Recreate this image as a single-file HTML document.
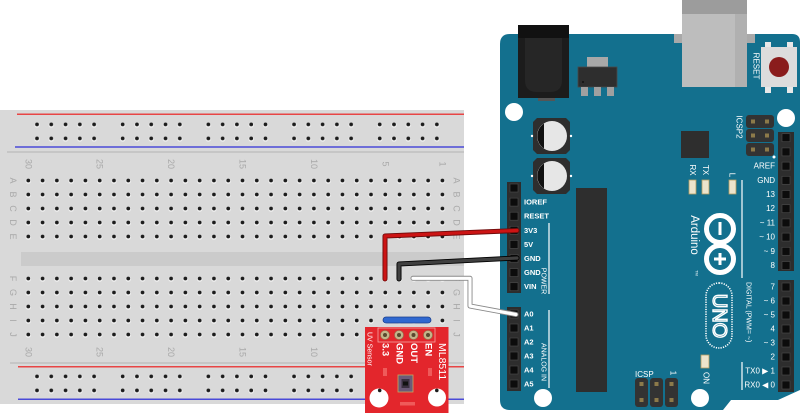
<!DOCTYPE html>
<html><head><meta charset="utf-8"><style>
html,body{margin:0;padding:0;background:#fff;}
svg{display:block;}
text{font-family:"Liberation Sans","DejaVu Sans",sans-serif;}
</style></head><body>
<svg xmlns="http://www.w3.org/2000/svg" width="800" height="413" viewBox="0 0 800 413">
<defs>
<pattern id="hm" x="21.16" y="5.5" width="14.28" height="14" patternUnits="userSpaceOnUse">
<circle cx="7.14" cy="7.6" r="2.7" fill="#f2f2f2"/><circle cx="7.14" cy="7" r="1.9" fill="#1c1c1c"/>
</pattern>
<pattern id="hr" x="29.86" y="5.4" width="85.68" height="14" patternUnits="userSpaceOnUse">
<g fill="#f2f2f2"><circle cx="7.14" cy="7.6" r="2.7"/><circle cx="21.42" cy="7.6" r="2.7"/><circle cx="35.7" cy="7.6" r="2.7"/><circle cx="49.98" cy="7.6" r="2.7"/><circle cx="64.26" cy="7.6" r="2.7"/></g>
<g fill="#1c1c1c"><circle cx="7.14" cy="7" r="1.9"/><circle cx="21.42" cy="7" r="1.9"/><circle cx="35.7" cy="7" r="1.9"/><circle cx="49.98" cy="7" r="1.9"/><circle cx="64.26" cy="7" r="1.9"/></g>
</pattern>
</defs>

<!-- ============ BREADBOARD ============ -->
<rect x="0" y="110" width="464" height="294" fill="#d9d9d9"/>
<line x1="17" y1="114.3" x2="464" y2="114.3" stroke="#e84545" stroke-width="1.5"/>
<line x1="15" y1="147" x2="464" y2="147" stroke="#4a4ad8" stroke-width="1.5"/>
<line x1="7" y1="152" x2="464" y2="152" stroke="#bcbcbc" stroke-width="1.2"/>
<line x1="10" y1="363" x2="464" y2="363" stroke="#bcbcbc" stroke-width="1.2"/>
<line x1="18" y1="366.7" x2="464" y2="366.7" stroke="#e84545" stroke-width="1.5"/>
<line x1="18" y1="399.3" x2="464" y2="399.3" stroke="#4a4ad8" stroke-width="1.5"/>
<rect x="21" y="252" width="443" height="14" fill="#cbcbcb"/>

<rect x="29.86" y="117.4" width="428.4" height="28" fill="url(#hr)"/>
<rect x="29.86" y="369.4" width="428.4" height="28" fill="url(#hr)"/>
<rect x="21.16" y="173.5" width="428.4" height="70" fill="url(#hm)"/>
<rect x="21.16" y="271.5" width="428.4" height="70" fill="url(#hm)"/>

<g font-size="9" fill="#a9a9a9" text-anchor="middle" dominant-baseline="central">
<text transform="translate(28.3,164) rotate(90)">30</text>
<text transform="translate(99.7,164) rotate(90)">25</text>
<text transform="translate(171.1,164) rotate(90)">20</text>
<text transform="translate(242.5,164) rotate(90)">15</text>
<text transform="translate(313.9,164) rotate(90)">10</text>
<text transform="translate(385.3,164) rotate(90)">5</text>
<text transform="translate(442.4,164) rotate(90)">1</text>
<text transform="translate(28.3,352) rotate(90)">30</text>
<text transform="translate(99.7,352) rotate(90)">25</text>
<text transform="translate(171.1,352) rotate(90)">20</text>
<text transform="translate(242.5,352) rotate(90)">15</text>
<text transform="translate(313.9,352) rotate(90)">10</text>
<text transform="translate(385.3,352) rotate(90)">5</text>
<text transform="translate(442.4,352) rotate(90)">1</text>
<text transform="translate(13,180.5) rotate(90)">A</text>
<text transform="translate(13,194.5) rotate(90)">B</text>
<text transform="translate(13,208.5) rotate(90)">C</text>
<text transform="translate(13,222.5) rotate(90)">D</text>
<text transform="translate(13,236.5) rotate(90)">E</text>
<text transform="translate(13,278.5) rotate(90)">F</text>
<text transform="translate(13,292.5) rotate(90)">G</text>
<text transform="translate(13,306.5) rotate(90)">H</text>
<text transform="translate(13,320.5) rotate(90)">I</text>
<text transform="translate(13,334.5) rotate(90)">J</text>
<text transform="translate(456.5,180.5) rotate(90)">A</text>
<text transform="translate(456.5,194.5) rotate(90)">B</text>
<text transform="translate(456.5,208.5) rotate(90)">C</text>
<text transform="translate(456.5,222.5) rotate(90)">D</text>
<text transform="translate(456.5,236.5) rotate(90)">E</text>
<text transform="translate(456.5,278.5) rotate(90)">F</text>
<text transform="translate(456.5,292.5) rotate(90)">G</text>
<text transform="translate(456.5,306.5) rotate(90)">H</text>
<text transform="translate(456.5,320.5) rotate(90)">I</text>
<text transform="translate(456.5,334.5) rotate(90)">J</text>
</g>

<!-- ============ ARDUINO ============ -->
<path d="M510,34 H792 Q800,34 800,42 V390 L778,400 H731 L723,410 H510 Q500,410 500,400 V44 Q500,34 510,34 Z" fill="#13708e"/>

<!-- USB -->
<rect x="674" y="34" width="81" height="9" fill="#a9a9a9"/>
<rect x="682" y="0" width="65" height="87" fill="#bdbdbd"/>
<rect x="682" y="0" width="65" height="14" fill="#9c9c9c"/>
<rect x="735" y="14" width="12" height="73" fill="#b0b0b0"/>

<!-- Power jack -->
<rect x="538" y="96" width="17" height="5" fill="#555"/>
<rect x="518" y="25" width="51" height="73" fill="#1c1c1c"/>
<rect x="518" y="25" width="51" height="13" fill="#111"/>
<path d="M525,38 H562 V80 Q562,92 550,92 H537 Q525,92 525,80 Z" fill="#262626"/>

<!-- Regulator -->
<rect x="587" y="57" width="21" height="10" fill="#a8a8a8"/>
<rect x="578" y="67" width="39" height="20" fill="#2e2e2e" stroke="#4a4a4a" stroke-width="0.8"/>
<circle cx="583" cy="82" r="1" fill="#111"/>
<rect x="581" y="87" width="7" height="9" fill="#a0a0a0"/>
<rect x="594" y="87" width="7" height="9" fill="#a0a0a0"/>
<rect x="607" y="87" width="7" height="9" fill="#a0a0a0"/>

<!-- Reset button -->
<rect x="765" y="42" width="6" height="6" fill="#e8e8e8"/><rect x="787" y="42" width="6" height="6" fill="#e8e8e8"/>
<rect x="765" y="86" width="6" height="7" fill="#e8e8e8"/><rect x="787" y="86" width="6" height="7" fill="#e8e8e8"/>
<rect x="761" y="47" width="36" height="40" fill="#dcdcdc"/>
<circle cx="779" cy="67" r="10" fill="#8a1c1c"/>
<text transform="translate(756,66) rotate(90)" font-size="8" fill="#fff" text-anchor="middle" dominant-baseline="central">RESET</text>

<!-- mounting holes -->
<circle cx="514" cy="112" r="9" fill="#fff"/>
<circle cx="786" cy="118" r="9" fill="#fff"/>
<circle cx="543" cy="398" r="9" fill="#fff"/>
<circle cx="700" cy="398" r="9" fill="#fff"/>

<!-- Capacitors -->
<path d="M537,118 H566 L570,122 V150 L566,154 H537 L533,150 V122 Z" fill="#2e2e2e"/>
<circle cx="552" cy="136" r="15" fill="#e6e6e6"/>
<path d="M544,123.5 A15,15 0 0 0 544,148.5 Z" fill="#111"/>
<circle cx="532" cy="136" r="1.2" fill="#fff"/><circle cx="571" cy="136" r="1.2" fill="#fff"/>
<path d="M537,158 H566 L570,162 V190 L566,194 H537 L533,190 V162 Z" fill="#2e2e2e"/>
<circle cx="552" cy="176" r="15" fill="#e6e6e6"/>
<path d="M544,163.5 A15,15 0 0 0 544,188.5 Z" fill="#111"/>
<circle cx="532" cy="176" r="1.2" fill="#fff"/><circle cx="571" cy="176" r="1.2" fill="#fff"/>

<!-- chips -->
<rect x="681" y="131" width="28" height="27" fill="#2e2e2e"/>
<rect x="576" y="188" width="31" height="204" fill="#2e2e2e"/>

<!-- ICSP2 -->
<rect x="746" y="115" width="28" height="13" rx="3" fill="#333"/>
<rect x="746" y="129" width="28" height="13" rx="3" fill="#333"/>
<rect x="746" y="143" width="28" height="13" rx="3" fill="#333"/>
<g fill="#8c7a4a"><rect x="751" y="119.5" width="4" height="4"/><rect x="765" y="119.5" width="4" height="4"/><rect x="751" y="133.5" width="4" height="4"/><rect x="765" y="133.5" width="4" height="4"/><rect x="751" y="147.5" width="4" height="4"/><rect x="765" y="147.5" width="4" height="4"/></g>
<circle cx="774" cy="157" r="1.5" fill="#fff"/>
<text transform="translate(739,127) rotate(90)" font-size="8" fill="#fff" text-anchor="middle" dominant-baseline="central">ICSP2</text>

<!-- LEDs -->
<rect x="689" y="180" width="7" height="14" fill="#ece4cc" stroke="#b59c60" stroke-width="0.8"/>
<rect x="702" y="180" width="7" height="14" fill="#ece4cc" stroke="#b59c60" stroke-width="0.8"/>
<rect x="729" y="180" width="7" height="14" fill="#ece4cc" stroke="#b59c60" stroke-width="0.8"/>
<rect x="701" y="355" width="8" height="13" fill="#ece4cc" stroke="#b59c60" stroke-width="0.8"/>
<g font-size="8" fill="#fff" text-anchor="middle" dominant-baseline="central">
<text transform="translate(692.5,170) rotate(90)">RX</text>
<text transform="translate(705.5,170) rotate(90)">TX</text>
<text transform="translate(732,175) rotate(90)">L</text>
<text transform="translate(706,378) rotate(90)">ON</text>
<text transform="translate(673,373) rotate(90)">1</text>
</g>

<!-- Digital line -->
<line x1="742" y1="180" x2="742" y2="278" stroke="#fff" stroke-width="1.2"/>
<line x1="742" y1="362" x2="742" y2="390" stroke="#fff" stroke-width="1.2"/>
<text transform="translate(748,282) rotate(90)" font-size="7" fill="#fff" dominant-baseline="central">DIGITAL (PWM= ~)</text>

<!-- Right headers -->
<rect x="778" y="132" width="16" height="139" fill="#2d2d2d"/>
<rect x="778" y="280" width="16" height="112" fill="#2d2d2d"/>
<g fill="#0c0c0c" stroke="#474747" stroke-width="0.7">
<rect x="782" y="133.7" width="8" height="8"/><rect x="782" y="147.9" width="8" height="8"/><rect x="782" y="162.1" width="8" height="8"/><rect x="782" y="176.3" width="8" height="8"/><rect x="782" y="190.5" width="8" height="8"/><rect x="782" y="204.7" width="8" height="8"/><rect x="782" y="218.9" width="8" height="8"/><rect x="782" y="233.1" width="8" height="8"/><rect x="782" y="247.3" width="8" height="8"/><rect x="782" y="261.5" width="8" height="8"/>
<rect x="782" y="283" width="8" height="8"/><rect x="782" y="297" width="8" height="8"/><rect x="782" y="311" width="8" height="8"/><rect x="782" y="325" width="8" height="8"/><rect x="782" y="339" width="8" height="8"/><rect x="782" y="353" width="8" height="8"/><rect x="782" y="367" width="8" height="8"/><rect x="782" y="381" width="8" height="8"/>
</g>
<g font-size="8" fill="#fff" text-anchor="end" dominant-baseline="central">
<text x="775" y="166">AREF</text><text x="775" y="180.3">GND</text><text x="775" y="194.5">13</text><text x="775" y="208.7">12</text><text x="775" y="222.9">~ 11</text><text x="775" y="237.1">~ 10</text><text x="775" y="251.3">~ 9</text><text x="775" y="265.5">8</text>
<text x="775" y="287">7</text><text x="775" y="301">~ 6</text><text x="775" y="315">~ 5</text><text x="775" y="329">4</text><text x="775" y="343">~ 3</text><text x="775" y="357">2</text><text x="775" y="371">TX0 ▶ 1</text><text x="775" y="385">RX0 ◀ 0</text>
</g>

<!-- Left headers -->
<rect x="507" y="182" width="14" height="111" fill="#2d2d2d"/>
<rect x="507" y="307" width="14" height="84" fill="#2d2d2d"/>
<g fill="#0c0c0c" stroke="#474747" stroke-width="0.7">
<rect x="510" y="184" width="8" height="8"/><rect x="510" y="198.1" width="8" height="8"/><rect x="510" y="212.2" width="8" height="8"/><rect x="510" y="226.3" width="8" height="8"/><rect x="510" y="240.4" width="8" height="8"/><rect x="510" y="254.5" width="8" height="8"/><rect x="510" y="268.6" width="8" height="8"/><rect x="510" y="282.7" width="8" height="8"/>
<rect x="510" y="310" width="8" height="8"/><rect x="510" y="324" width="8" height="8"/><rect x="510" y="338" width="8" height="8"/><rect x="510" y="352" width="8" height="8"/><rect x="510" y="366" width="8" height="8"/><rect x="510" y="380" width="8" height="8"/>
</g>
<g font-size="7.5" font-weight="bold" fill="#fff" dominant-baseline="central">
<text x="524" y="202">IOREF</text><text x="524" y="216.2">RESET</text><text x="524" y="230.3">3V3</text><text x="524" y="244.4">5V</text><text x="524" y="258.5">GND</text><text x="524" y="272.6">GND</text><text x="524" y="286.7">VIN</text>
<text x="524" y="314">A0</text><text x="524" y="328">A1</text><text x="524" y="342">A2</text><text x="524" y="356">A3</text><text x="524" y="370">A4</text><text x="524" y="384">A5</text>
</g>
<line x1="549" y1="223" x2="549" y2="294" stroke="#fff" stroke-width="1.2"/>
<line x1="549" y1="310" x2="549" y2="388" stroke="#fff" stroke-width="1.2"/>
<text transform="translate(543,281) rotate(90)" font-size="7" fill="#fff" text-anchor="middle" dominant-baseline="central">POWER</text>
<text transform="translate(543,362) rotate(90)" font-size="7" fill="#fff" text-anchor="middle" dominant-baseline="central">ANALOG IN</text>

<!-- Bottom ICSP -->
<rect x="635" y="378" width="13" height="29" rx="3" fill="#333"/>
<rect x="650" y="378" width="13" height="29" rx="3" fill="#333"/>
<rect x="665" y="378" width="13" height="29" rx="3" fill="#333"/>
<g fill="#8c7a4a"><rect x="639.5" y="382" width="4" height="4"/><rect x="654.5" y="382" width="4" height="4"/><rect x="669.5" y="382" width="4" height="4"/><rect x="639.5" y="398" width="4" height="4"/><rect x="654.5" y="398" width="4" height="4"/><rect x="669.5" y="398" width="4" height="4"/></g>
<text x="635" y="377" font-size="8" fill="#fff">ICSP</text>

<!-- Logo -->
<circle cx="720" cy="229" r="13.5" fill="none" stroke="#fff" stroke-width="5"/>
<circle cx="720" cy="259" r="13.5" fill="none" stroke="#fff" stroke-width="5"/>
<rect x="718.5" y="222" width="3" height="13" fill="#fff"/>
<rect x="718.5" y="253" width="3" height="12" fill="#fff"/>
<rect x="714" y="257.5" width="12" height="3" fill="#fff"/>
<text transform="translate(694,235) rotate(90)" font-size="11.5" fill="#fff" text-anchor="middle" dominant-baseline="central">Arduino</text>
<text transform="translate(697,273) rotate(90)" font-size="4" fill="#fff" text-anchor="middle" dominant-baseline="central">TM</text>
<rect x="706" y="283" width="26" height="65" rx="13" fill="none" stroke="#fff" stroke-width="1.6" stroke-dasharray="1.2,1.2"/>
<text transform="translate(719,316) rotate(90)" font-size="20" fill="none" stroke="#fff" stroke-width="1.4" text-anchor="middle" dominant-baseline="central">UNO</text>

<!-- ============ BLUE JUMPER ============ -->
<rect x="383" y="317" width="48" height="6" rx="3" fill="#2f68d0" stroke="#1b3f8c" stroke-width="0.8"/>

<!-- ============ WIRES ============ -->
<g fill="none" stroke-linecap="round" stroke-linejoin="round">
<path d="M385,279 L385,236 L517,230.5" stroke="#6e0a0a" stroke-width="5"/>
<path d="M385,279 L385,236 L517,230.5" stroke="#cc1414" stroke-width="3.2"/>
<path d="M399,279 L399,264 L517,258" stroke="#000" stroke-width="5"/>
<path d="M399,279 L399,264 L517,258" stroke="#404040" stroke-width="3.2"/>
<path d="M413,278.3 L470,278.3 L470,306 L516,314.5" stroke="#8a8a8a" stroke-width="5"/>
<path d="M413,278.3 L470,278.3 L470,306 L516,314.5" stroke="#fff" stroke-width="3.2"/>
</g>

<!-- ============ UV SENSOR ============ -->
<rect x="365" y="327" width="83.5" height="86" fill="#e3262c"/>
<rect x="378" y="328" width="57" height="14" fill="none" stroke="#f6a3a3" stroke-width="0.8"/>
<g fill="#c4b48a" stroke="#8a7a50" stroke-width="0.6">
<circle cx="385" cy="335" r="4.5"/><circle cx="399" cy="335" r="4.5"/><circle cx="413.5" cy="335" r="4.5"/><circle cx="428" cy="335" r="4.5"/>
</g>
<g fill="#5a4a30"><circle cx="385" cy="335" r="2"/><circle cx="399" cy="335" r="2"/><circle cx="413.5" cy="335" r="2"/><circle cx="428" cy="335" r="2"/></g>
<g font-size="9.5" font-weight="bold" fill="#fff" dominant-baseline="central">
<text transform="translate(385,343) rotate(90)">3.3</text>
<text transform="translate(399,343) rotate(90)">GND</text>
<text transform="translate(413.5,343) rotate(90)">OUT</text>
<text transform="translate(428,343) rotate(90)">EN</text>
<text transform="translate(442,343) rotate(90)" font-size="10.5" font-weight="normal">ML8511</text>
<text transform="translate(369,332) rotate(90)" font-size="7" font-weight="normal">UV Sensor</text>
</g>
<g fill="#ef5a5a"><rect x="383" y="368" width="4" height="8"/><rect x="428" y="368" width="4" height="8"/><rect x="400" y="402" width="15" height="3.5"/></g>
<rect x="398" y="375" width="15" height="17" fill="#6b5a78" stroke="#c8a860" stroke-width="0.8"/>
<rect x="401.5" y="379" width="8" height="9" fill="#3a3040"/>
<rect x="403" y="381.5" width="5" height="4" fill="#111"/>
<circle cx="379" cy="398" r="9.5" fill="#fff"/>
<circle cx="437" cy="397.5" r="9" fill="#fff"/>
<circle cx="379.7" cy="390.4" r="1.8" fill="#1c1c1c"/>
<circle cx="436.8" cy="390.4" r="1.8" fill="#1c1c1c"/>
</svg>
</body></html>
